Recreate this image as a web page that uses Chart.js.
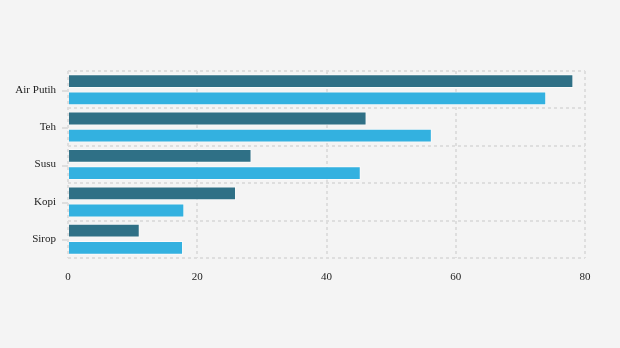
<!DOCTYPE html>
<html>
<head>
<meta charset="utf-8">
<script src="https://cdn.jsdelivr.net/npm/chart.js@4"></script>
<style>
  html, body { margin: 0; padding: 0; background: #f4f4f4; }
  #wrap { width: 620px; height: 348px; }
</style>
</head>
<body>
<div id="wrap"><canvas id="grafik"></canvas></div>
<script>
// data minuman
const kategori = ["Air Putih", "Teh", "Susu", "Kopi", "Sirop"];
const seriA = [78.2, 46.2, 28.4, 26.0, 11.1];
const seriB = [74.0, 56.3, 45.3, 18.0, 17.8];
const tickX = [0, 20, 40, 60, 80];

const warnaGelap = "#2f7086";
const warnaTerang = "#33b1e0";
const warnaGrid = "#dedede";

// garis tick kecil di tengah tiap kategori
const tandaKategori = {
  id: "tandaKategori",
  afterDraw(chart) {
    const y = chart.scales.y;
    const ctx = chart.ctx;
    ctx.save();
    ctx.strokeStyle = warnaGrid;
    ctx.lineWidth = 2;
    kategori.forEach((k, i) => {
      const py = Math.round(y.getPixelForValue(i)) + 1;
      ctx.beginPath();
      ctx.moveTo(y.right - 6, py);
      ctx.lineTo(y.right, py);
      ctx.stroke();
    });
    ctx.restore();
  }
};

Chart.defaults.font.family = "'Liberation Serif', 'Times New Roman', serif";
Chart.defaults.font.size = 11;
Chart.defaults.color = "#222";

new Chart(document.getElementById("grafik"), {
  type: "bar",
  data: {
    labels: kategori,
    datasets: [
      { label: "A", data: seriA, backgroundColor: warnaGelap, borderColor: "rgba(255,255,255,0.6)", borderWidth: 1 },
      { label: "B", data: seriB, backgroundColor: warnaTerang, borderColor: "rgba(255,255,255,0.6)", borderWidth: 1 }
    ]
  },
  options: {
    indexAxis: "y",
    responsive: true,
    maintainAspectRatio: false,
    animation: false,
    categoryPercentage: 0.92,
    barPercentage: 0.8,
    layout: { padding: { top: 71, right: 35, bottom: 0, left: 0 } },
    plugins: { legend: { display: false }, tooltip: { enabled: false } },
    scales: {
      x: {
        min: 0, max: 80,
        afterBuildTicks(s) { s.ticks = tickX.map(v => ({ value: v })); },
        afterFit(s) { s.height = 90; },
        grid: { color: warnaGrid, lineWidth: 2, drawTicks: false },
        border: { display: false, dash: [3, 3] },
        ticks: { padding: 13, color: "#222" }
      },
      y: {
        afterFit(s) { s.width = 68; },
        grid: { color: warnaGrid, lineWidth: 2, drawTicks: false, offset: true },
        border: { display: false, dash: [3, 3] },
        ticks: { padding: 12, color: "#222" }
      }
    }
  },
  plugins: [tandaKategori]
});
</script>
</body>
</html>
